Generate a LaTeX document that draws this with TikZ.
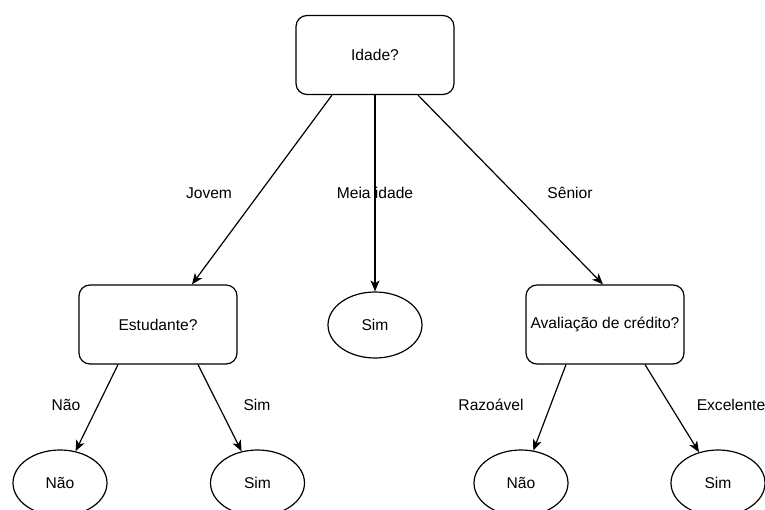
\documentclass[tikz,border=0pt]{standalone}
\usepackage{fontspec}
\setmainfont{Liberation Sans}
\usetikzlibrary{arrows.meta,shapes.geometric}
\begin{document}
\begin{tikzpicture}[x=1pt,y=-1pt,
  font=\fontsize{15.6}{18}\selectfont,
  question/.style={draw, line width=1.2pt, rounded corners=11pt, minimum width=158pt, minimum height=79pt, inner sep=0pt},
  leaf/.style={draw, line width=1.2pt, ellipse, minimum width=94pt, minimum height=66pt, inner sep=0pt},
  branch/.style={draw, line width=1.2pt, -{Stealth[length=11pt,width=9pt,inset=3pt]}},
  lbl/.style={inner sep=0pt}]
\useasboundingbox (0,0) rectangle (765,510);
\clip (0,0) rectangle (765,510);

% decision nodes
\node[question] (idade) at (375,55) {Idade?};
\node[question] (est) at (158,324.5) {Estudante?};
\node[question] (aval) at (605,324.5) {Avaliação de crédito?};

% leaves
\node[leaf] (simmid) at (375,325) {Sim};
\node[leaf] (nao1) at (60,483) {Não};
\node[leaf] (sim1) at (257.5,483) {Sim};
\node[leaf] (nao2) at (521,483) {Não};
\node[leaf] (sim2) at (718,483) {Sim};

% branches from the root
\draw[branch] ([xshift=-43pt]idade.south) -- ([xshift=34pt]est.north);
\draw[branch] (idade.south) -- (simmid);
\draw[branch] ([xshift=43pt]idade.south) -- ([xshift=-2pt]aval.north);

% branches below the tests
\draw[branch] ([xshift=-40pt]est.south) -- (nao1);
\draw[branch] ([xshift=40pt]est.south) -- (sim1);
\draw[branch] ([xshift=-39pt]aval.south) -- (nao2);
\draw[branch] ([xshift=40pt]aval.south) -- (sim2);

% branch labels
\node[lbl] (ljovem) at (209,193) {Jovem};
\node[lbl] (lmeia) at (375,193) {Meia idade};
\node[lbl] (lsenior) at (570,193) {Sênior};
\node[lbl] (lnao1) at (66,405) {Não};
\node[lbl] (lsim1) at (257,405) {Sim};
\node[lbl] (lrazo) at (491,405) {Razoável};
\node[lbl] (lexc) at (731,405) {Excelente};
\end{tikzpicture}
\end{document}
